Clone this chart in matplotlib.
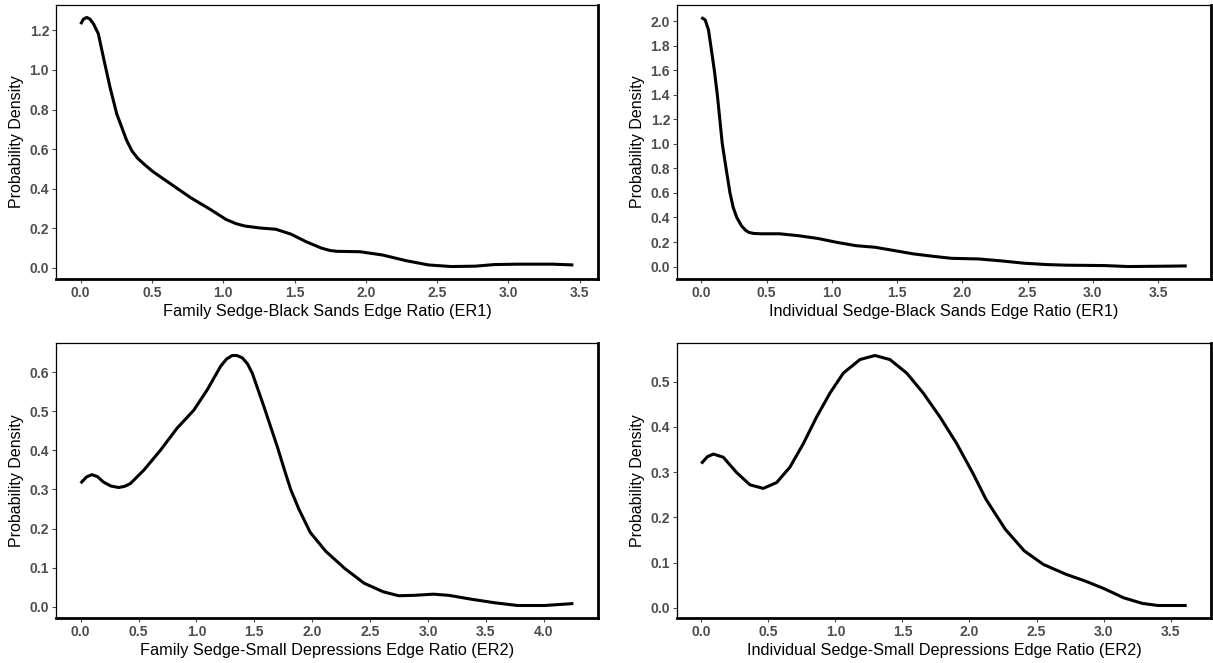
import matplotlib
matplotlib.use("Agg")
import matplotlib.pyplot as plt
import numpy as np

plt.rcParams['font.family'] = ['Liberation Sans', 'DejaVu Sans']

# Panel 1: Family Sedge-Black Sands Edge Ratio (ER1)
p1_x = [0.0, 0.02, 0.043, 0.065, 0.089, 0.124, 0.159, 0.206, 0.253, 0.323, 0.36, 0.4, 0.45,
        0.506, 0.64, 0.775, 0.91, 1.018, 1.09, 1.152, 1.26, 1.368, 1.475, 1.583, 1.69, 1.75,
        1.8, 1.96, 2.12, 2.28, 2.44, 2.6, 2.77, 2.90, 3.06, 3.31, 3.455]
p1_y = [1.232, 1.258, 1.266, 1.258, 1.235, 1.184, 1.066, 0.913, 0.778, 0.643, 0.59, 0.553,
        0.52, 0.486, 0.419, 0.352, 0.294, 0.244, 0.222, 0.21, 0.2, 0.194, 0.169, 0.13,
        0.098, 0.086, 0.082, 0.08, 0.063, 0.035, 0.013, 0.005, 0.007, 0.015, 0.017, 0.017,
        0.013]

# Panel 2: Individual Sedge-Black Sands Edge Ratio (ER1)
p2_x = [0.0, 0.03, 0.055, 0.073, 0.1, 0.123, 0.142, 0.161, 0.19, 0.22, 0.245, 0.272, 0.308,
        0.34, 0.366, 0.40, 0.454, 0.6, 0.747, 0.893, 1.04, 1.186, 1.333, 1.48, 1.626, 1.772,
        1.918, 2.124, 2.3, 2.475, 2.65, 2.8, 3.09, 3.27, 3.56, 3.72]
p2_y = [2.03, 2.01, 1.93, 1.8, 1.6, 1.4, 1.2, 1.0, 0.8, 0.6, 0.48, 0.4, 0.332, 0.295, 0.278,
        0.27, 0.267, 0.267, 0.251, 0.229, 0.197, 0.17, 0.157, 0.13, 0.103, 0.084, 0.067,
        0.062, 0.046, 0.027, 0.016, 0.011, 0.008, 0.0, 0.003, 0.005]

# Panel 3: Family Sedge-Small Depressions Edge Ratio (ER2)
p3_x = [0.0, 0.05, 0.097, 0.145, 0.197, 0.26, 0.327, 0.38, 0.429, 0.544, 0.688, 0.833, 0.977,
        1.093, 1.208, 1.26, 1.309, 1.35, 1.396, 1.44, 1.482, 1.583, 1.699, 1.76, 1.814, 1.884,
        1.983, 2.116, 2.28, 2.448, 2.614, 2.746, 2.88, 3.045, 3.18, 3.376, 3.575, 3.774,
        4.007, 4.255]
p3_y = [0.316, 0.332, 0.338, 0.333, 0.319, 0.309, 0.305, 0.308, 0.315, 0.349, 0.40, 0.457,
        0.503, 0.555, 0.615, 0.634, 0.643, 0.643, 0.637, 0.622, 0.598, 0.512, 0.409, 0.35,
        0.30, 0.25, 0.19, 0.142, 0.098, 0.06, 0.038, 0.028, 0.029, 0.032, 0.029, 0.019,
        0.01, 0.003, 0.003, 0.008]

# Panel 4: Individual Sedge-Small Depressions Edge Ratio (ER2)
p4_x = [0.0, 0.045, 0.09, 0.164, 0.264, 0.363, 0.462, 0.562, 0.661, 0.761, 0.86, 0.96, 1.059,
        1.183, 1.295, 1.407, 1.532, 1.655, 1.78, 1.905, 2.028, 2.123, 2.266, 2.408, 2.55,
        2.72, 2.864, 3.006, 3.15, 3.29, 3.405, 3.62]
p4_y = [0.319, 0.334, 0.340, 0.333, 0.299, 0.272, 0.264, 0.277, 0.311, 0.363, 0.422, 0.475,
        0.519, 0.549, 0.558, 0.549, 0.519, 0.475, 0.422, 0.363, 0.296, 0.24, 0.174, 0.126,
        0.096, 0.074, 0.059, 0.042, 0.022, 0.0096, 0.005, 0.005]

xlabels = ["Family Sedge-Black Sands Edge Ratio (ER1)",
           "Individual Sedge-Black Sands Edge Ratio (ER1)",
           "Family Sedge-Small Depressions Edge Ratio (ER2)",
           "Individual Sedge-Small Depressions Edge Ratio (ER2)"]
xticks = [np.arange(0, 3.51, 0.5), np.arange(0, 3.51, 0.5),
          np.arange(0, 4.01, 0.5), np.arange(0, 3.51, 0.5)]
yticks = [np.arange(0, 1.21, 0.2), np.arange(0, 2.01, 0.2),
          np.arange(0, 0.61, 0.1), np.arange(0, 0.51, 0.1)]
series = [(p1_x, p1_y), (p2_x, p2_y), (p3_x, p3_y), (p4_x, p4_y)]

fig = plt.figure(figsize=(12.13, 6.63), dpi=100)
W, H = 1213, 663
boxes = [(56, 598, 5, 279), (677, 1211, 5, 279), (56, 598, 343, 618), (677, 1211, 343, 618)]

for (l, r, t, b), (xs, ys), xl, xt, yt in zip(boxes, series, xlabels, xticks, yticks):
    ax = fig.add_axes([l / W, 1 - b / H, (r - l) / W, (b - t) / H])
    ax.plot(xs, ys, color='black', lw=2.2, solid_capstyle='butt', solid_joinstyle='round')
    ax.margins(x=0.05, y=0.05)
    ax.set_xticks(xt)
    ax.set_yticks(yt)
    ax.set_xticklabels([f"{v:.1f}" for v in xt])
    ax.set_yticklabels([f"{v:.1f}" for v in yt])
    ax.tick_params(axis='both', which='major', length=3, width=0.8, color='#4D4D4D',
                   labelcolor='#4D4D4D', labelsize=10, pad=2)
    for lab in ax.get_xticklabels() + ax.get_yticklabels():
        lab.set_fontweight('bold')
    ax.set_xlabel(xl, fontsize=11.7, color='black', labelpad=3)
    ax.set_ylabel("Probability Density", fontsize=11.5, color='black', labelpad=4)
    ax.spines['left'].set_linewidth(0.9)
    ax.spines['top'].set_linewidth(0.9)
    ax.spines['bottom'].set_linewidth(2.0)
    ax.spines['right'].set_linewidth(2.0)
    for s in ax.spines.values():
        s.set_color('black')

fig.savefig("out.png", dpi=100)
